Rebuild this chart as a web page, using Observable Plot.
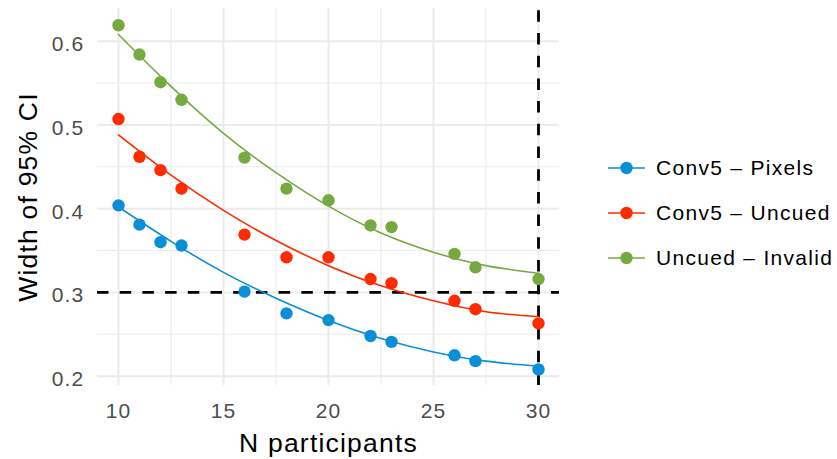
<!DOCTYPE html>
<html>
<head>
<meta charset="utf-8">
<script src="https://cdn.jsdelivr.net/npm/d3@7"></script>
<script src="https://cdn.jsdelivr.net/npm/@observablehq/plot@0.6"></script>
<style>
  html, body { margin: 0; padding: 0; background: #fff; }
  #wrap { position: relative; width: 837px; height: 459px; font-family: "Liberation Sans", Arial, Helvetica, sans-serif; }
  #wrap svg text { letter-spacing: 1.2px; }
  #legend { position: absolute; left: 608px; top: 145px; }
  .row { display: flex; align-items: center; height: 45.3px; }
  .row span { margin-left: 11px; font-size: 21px; letter-spacing: 1.3px; color: #000; white-space: nowrap; }
</style>
</head>
<body>
<div id="wrap"><div id="legend"></div></div>
<script>
// ---- data ----
const nParticipants = [10, 11, 12, 13, 16, 18, 20, 22, 23, 26, 27, 30];
const pixels  = [0.404, 0.381, 0.360, 0.356, 0.301, 0.275, 0.267, 0.248, 0.241, 0.225, 0.218, 0.208];
const uncued  = [0.507, 0.462, 0.446, 0.424, 0.369, 0.342, 0.342, 0.316, 0.311, 0.290, 0.280, 0.263];
const invalid = [0.619, 0.584, 0.551, 0.530, 0.461, 0.424, 0.410, 0.380, 0.378, 0.346, 0.330, 0.316];

// fitted curves
const fitN        = [10, 12.5, 15, 17.5, 20, 22.5, 25, 27.5, 30];
const pixelsFit   = [0.402, 0.361, 0.324, 0.293, 0.2665, 0.245, 0.229, 0.218, 0.212];
const uncuedFit   = [0.488, 0.440, 0.398, 0.362, 0.332, 0.308, 0.290, 0.277, 0.271];
const invalidFit  = [0.608, 0.546, 0.490, 0.443, 0.403, 0.371, 0.348, 0.332, 0.323];

const seriesNames  = ["Conv5 – Pixels", "Conv5 – Uncued", "Uncued – Invalid"];
const seriesColors = ["#0A8FD7", "#FF2B00", "#76AA41"];

const xTicks = [10, 15, 20, 25, 30];
const xMinor = [12.5, 17.5, 22.5, 27.5];
const yTicks = [0.2, 0.3, 0.4, 0.5, 0.6];
const yMinor = [0.25, 0.35, 0.45, 0.55];
const xDomain = [9, 31];
const yDomain = [0.1889, 0.639];

const ciThreshold = 0.3;
const nTarget = 30;

const xTitle = "N participants";
const yTitle = "Width of 95% CI";

// ---- tables ----
const values = [pixels, uncued, invalid];
const fits = [pixelsFit, uncuedFit, invalidFit];
const points = values.flatMap((arr, s) => nParticipants.map((n, i) => ({n, w: arr[i], s: seriesNames[s]})));
const curves = fits.flatMap((arr, s) => fitN.map((n, i) => ({n, w: arr[i], s: seriesNames[s]})));

const grid = "#ebebeb";

const chart = Plot.plot({
  width: 837,
  height: 459,
  marginLeft: 97,
  marginRight: 278,
  marginTop: 8,
  marginBottom: 74,
  style: {fontFamily: '"Liberation Sans", Arial, Helvetica, sans-serif', fontSize: "21px", background: "#fff"},
  x: {domain: xDomain},
  y: {domain: yDomain},
  color: {domain: seriesNames, range: seriesColors},
  marks: [
    Plot.gridX(xMinor, {stroke: grid, strokeOpacity: 1, strokeWidth: 1.1}),
    Plot.gridY(yMinor, {stroke: grid, strokeOpacity: 1, strokeWidth: 1.1}),
    Plot.gridX(xTicks, {stroke: grid, strokeOpacity: 1, strokeWidth: 2}),
    Plot.gridY(yTicks, {stroke: grid, strokeOpacity: 1, strokeWidth: 2}),
    Plot.ruleY([ciThreshold], {stroke: "#000", strokeWidth: 2.8, strokeDasharray: "11.5 11.2"}),
    Plot.ruleX([{x: nTarget, y1: yDomain[0], y2: yDomain[1]}], {x: "x", y1: "y1", y2: "y2", stroke: "#000", strokeWidth: 2.8, strokeDasharray: "11.5 11.2"}),
    Plot.line(curves, {x: "n", y: "w", z: "s", stroke: "s", strokeWidth: 1.6, curve: "natural"}),
    Plot.dot(points, {x: "n", y: "w", fill: "s", r: 6.2}),
    Plot.axisX(xTicks, {tickSize: 0, tickPadding: 17.5, fill: "#4d4d4d", label: null}),
    Plot.axisY(yTicks, {tickSize: 0, tickPadding: 13, fill: "#4d4d4d", dy: 3.3, tickFormat: d3.format(".1f"), label: null}),
    Plot.text([xTitle], {frameAnchor: "bottom", lineAnchor: "middle", textAnchor: "middle", dy: 58.5, fontSize: 26.5, fill: "#000", text: d => d}),
    Plot.text([yTitle], {frameAnchor: "left", lineAnchor: "middle", textAnchor: "middle", rotate: -90, dx: -68.5, fontSize: 26.5, fill: "#000", text: d => d})
  ]
});
document.getElementById("wrap").prepend(chart);

// ---- legend ----
const legend = document.getElementById("legend");
seriesNames.forEach((name, i) => {
  const row = document.createElement("div");
  row.className = "row";
  const ns = "http://www.w3.org/2000/svg";
  const key = document.createElementNS(ns, "svg");
  key.setAttribute("width", 37);
  key.setAttribute("height", 16);
  const ln = document.createElementNS(ns, "line");
  ln.setAttribute("x1", 0); ln.setAttribute("x2", 37);
  ln.setAttribute("y1", 8); ln.setAttribute("y2", 8);
  ln.setAttribute("stroke", seriesColors[i]); ln.setAttribute("stroke-width", 1.6);
  const c = document.createElementNS(ns, "circle");
  c.setAttribute("cx", 18.5); c.setAttribute("cy", 8); c.setAttribute("r", 6.2);
  c.setAttribute("fill", seriesColors[i]);
  key.append(ln, c);
  const label = document.createElement("span");
  label.textContent = name;
  row.append(key, label);
  legend.append(row);
});
</script>
</body>
</html>
